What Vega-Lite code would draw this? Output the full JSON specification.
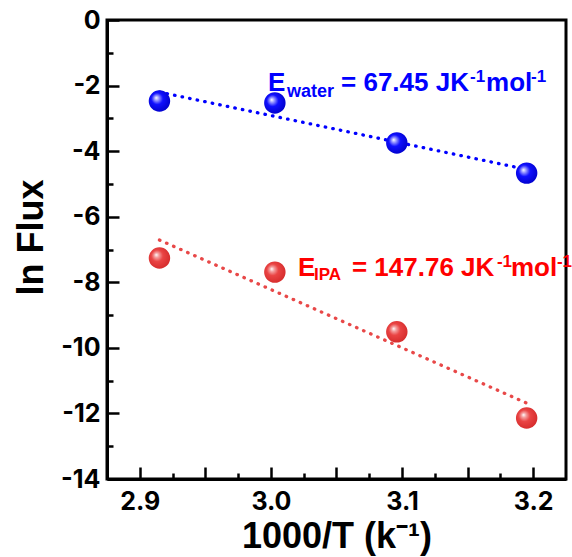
{
  "$schema": "https://vega.github.io/schema/vega-lite/v6.json",
  "width": 459,
  "height": 459,
  "autosize": "none",
  "padding": {"left": 107, "top": 20, "right": 6, "bottom": 78},
  "background": "white",
  "config": {
    "view": {"stroke": "black", "strokeWidth": 3},
    "axis": {"grid": false, "domainColor": "black", "domainWidth": 3, "labelColor": "black", "titleColor": "black"}
  },
  "resolve": {"axis": {"x": "independent", "y": "independent"}},
  "datasets": {
    "points": [
      {"series": "water", "x": 2.915, "y": -2.47},
      {"series": "water", "x": 3.003, "y": -2.53},
      {"series": "water", "x": 3.096, "y": -3.75},
      {"series": "water", "x": 3.195, "y": -4.67},
      {"series": "IPA", "x": 2.915, "y": -7.26},
      {"series": "IPA", "x": 3.003, "y": -7.69},
      {"series": "IPA", "x": 3.096, "y": -9.51},
      {"series": "IPA", "x": 3.195, "y": -12.14}
    ],
    "labels": [
      {"series": "water", "x": 2.9978, "y": -2.166},
      {"series": "IPA", "x": 3.0206, "y": -7.808}
    ]
  },
  "data": {"name": "points"},
  "encoding": {
    "x": {"field": "x", "type": "quantitative", "scale": {"domain": [2.875, 3.225], "nice": false, "zero": false}, "axis": null},
    "y": {"field": "y", "type": "quantitative", "scale": {"domain": [-14, 0], "nice": false, "zero": false}, "axis": null}
  },
  "layer": [
    {
      "transform": [{"regression": "y", "on": "x", "groupby": ["series"]}],
      "mark": {"type": "line", "strokeWidth": 3.3, "strokeDash": [0.5, 7.2], "strokeCap": "round"},
      "encoding": {
        "x": {
          "field": "x", "type": "quantitative",
          "axis": {
            "orient": "bottom", "zindex": 1,
            "title": "1000/T (k⁻¹)",
            "titleFont": "Liberation Sans", "titleFontWeight": "bold", "titleFontSize": 36,
            "titleBaseline": "alphabetic", "titleY": 68,
            "values": [2.9, 2.95, 3.0, 3.05, 3.1, 3.15, 3.2],
            "labelExpr": "abs(datum.value*10 - round(datum.value*10)) < 0.001 ? format(datum.value, '.1f') : ''",
            "labelFont": "Inter", "labelFontWeight": "bold", "labelFontSize": 25,
            "ticks": true, "tickSize": -12, "tickColor": "black", "tickWidth": 2.5,
            "labelPadding": 22
          }
        },
        "y": {
          "field": "y", "type": "quantitative",
          "axis": {
            "orient": "left", "zindex": 1,
            "title": "ln Flux",
            "titleFont": "Liberation Sans", "titleFontWeight": "bold", "titleFontSize": 36,
            "titleBaseline": "alphabetic", "titleAngle": 270, "titleX": -65, "titleY": 217, "titleAlign": "center",
            "values": [-14, -12, -10, -8, -6, -4, -2, 0],
            "labelExpr": "datum.value + ''",
            "labelFont": "Inter", "labelFontWeight": "bold", "labelFontSize": 25,
            "ticks": true, "tickSize": -12, "tickColor": "black", "tickWidth": 2.5,
            "labelPadding": 19
          }
        },
        "color": {"field": "series", "type": "nominal", "scale": {"domain": ["water", "IPA"], "range": ["#0000ff", "#e84848"]}, "legend": null}
      }
    },
    {
      "transform": [{"filter": "datum.series == 'water'"}],
      "mark": {"type": "point", "filled": true, "size": 460, "opacity": 1,
        "fill": {"gradient": "radial", "x1": 0.35, "y1": 0.35, "r1": 0, "x2": 0.45, "y2": 0.45, "r2": 0.6,
          "stops": [{"offset": 0, "color": "#ffffff"}, {"offset": 0.18, "color": "#9a9aff"}, {"offset": 0.45, "color": "#1010ff"}, {"offset": 1, "color": "#0000c8"}]}},
      "encoding": {
        "x": {
          "field": "x", "type": "quantitative",
          "axis": {"orient": "bottom", "zindex": 1, "title": null, "labels": false, "domain": false,
            "ticks": true, "tickSize": -6, "tickColor": "black", "tickWidth": 2.5,
            "values": [2.925, 2.975, 3.025, 3.075, 3.125, 3.175]}
        },
        "y": {
          "field": "y", "type": "quantitative",
          "axis": {"orient": "left", "zindex": 1, "title": null, "labels": false, "domain": false,
            "ticks": true, "tickSize": -6, "tickColor": "black", "tickWidth": 2.5,
            "values": [-13, -11, -9, -7, -5, -3, -1]}
        }
      }
    },
    {
      "transform": [{"filter": "datum.series == 'IPA'"}],
      "mark": {"type": "point", "filled": true, "size": 460, "opacity": 1,
        "fill": {"gradient": "radial", "x1": 0.35, "y1": 0.35, "r1": 0, "x2": 0.45, "y2": 0.45, "r2": 0.6,
          "stops": [{"offset": 0, "color": "#ffffff"}, {"offset": 0.18, "color": "#f4a0a0"}, {"offset": 0.45, "color": "#ea4444"}, {"offset": 1, "color": "#d42a2a"}]}}
    },
    {
      "data": {"name": "labels"},
      "transform": [{"filter": "datum.series == 'water'"}],
      "layer": [
        {"mark": {"type": "text", "text": "E", "align": "left", "baseline": "alphabetic", "font": "Liberation Sans", "fontWeight": "bold", "fontSize": 26, "color": "#0000ff"}},
        {"mark": {"type": "text", "text": "water", "dx": 19, "dy": 6, "align": "left", "baseline": "alphabetic", "font": "Liberation Sans", "fontWeight": "bold", "fontSize": 18, "color": "#0000ff"}},
        {"mark": {"type": "text", "text": "= 67.45 JK", "dx": 73, "align": "left", "baseline": "alphabetic", "font": "Liberation Sans", "fontWeight": "bold", "fontSize": 26, "color": "#0000ff"}},
        {"mark": {"type": "text", "text": "-1", "dx": 202, "dy": -9, "align": "left", "baseline": "alphabetic", "font": "Liberation Sans", "fontWeight": "bold", "fontSize": 17, "color": "#0000ff"}},
        {"mark": {"type": "text", "text": "mol", "dx": 218, "align": "left", "baseline": "alphabetic", "font": "Liberation Sans", "fontWeight": "bold", "fontSize": 26, "color": "#0000ff"}},
        {"mark": {"type": "text", "text": "-1", "dx": 263, "dy": -9, "align": "left", "baseline": "alphabetic", "font": "Liberation Sans", "fontWeight": "bold", "fontSize": 17, "color": "#0000ff"}}
      ]
    },
    {
      "data": {"name": "labels"},
      "transform": [{"filter": "datum.series == 'IPA'"}],
      "layer": [
        {"mark": {"type": "text", "text": "E", "align": "left", "baseline": "alphabetic", "font": "Liberation Sans", "fontWeight": "bold", "fontSize": 26, "color": "#ff0000"}},
        {"mark": {"type": "text", "text": "IPA", "dx": 16, "dy": 4, "align": "left", "baseline": "alphabetic", "font": "Liberation Sans", "fontWeight": "bold", "fontSize": 17, "color": "#ff0000"}},
        {"mark": {"type": "text", "text": "= 147.76 JK", "dx": 54, "align": "left", "baseline": "alphabetic", "font": "Liberation Sans", "fontWeight": "bold", "fontSize": 26, "color": "#ff0000"}},
        {"mark": {"type": "text", "text": "-1", "dx": 199, "dy": -9, "align": "left", "baseline": "alphabetic", "font": "Liberation Sans", "fontWeight": "bold", "fontSize": 17, "color": "#ff0000"}},
        {"mark": {"type": "text", "text": "mol", "dx": 213, "align": "left", "baseline": "alphabetic", "font": "Liberation Sans", "fontWeight": "bold", "fontSize": 26, "color": "#ff0000"}},
        {"mark": {"type": "text", "text": "-1", "dx": 259, "dy": -9, "align": "left", "baseline": "alphabetic", "font": "Liberation Sans", "fontWeight": "bold", "fontSize": 17, "color": "#ff0000"}}
      ]
    }
  ]
}
